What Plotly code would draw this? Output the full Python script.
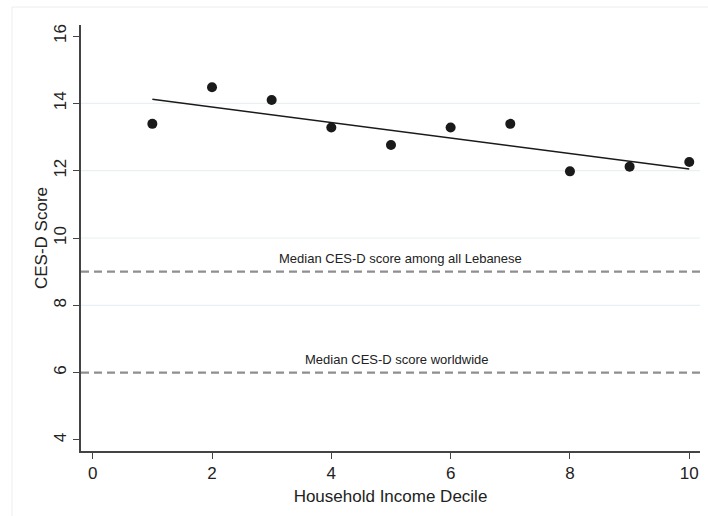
import plotly.graph_objects as go

deciles = [1, 2, 3, 4, 5, 6, 7, 8, 9, 10]
cesd_scores = [13.39, 14.48, 14.10, 13.28, 12.76, 13.28, 13.39, 11.98, 12.12, 12.26]
fit_x = [1, 10]
fit_y = [14.12, 12.05]
ref_lines = [9, 6]
ref_labels = ["Median CES-D score among all Lebanese", "Median CES-D score worldwide"]
ref_label_x = [5.16, 5.1]
grid_vals = [8, 10, 12, 14]
x_ticks = [0, 2, 4, 6, 8, 10]
y_ticks = [4, 6, 8, 10, 12, 14, 16]

FONT = "Liberation Sans, Arial, Helvetica, sans-serif"

fig = go.Figure()

shapes = []
for g in grid_vals:
    shapes.append(dict(type="line", xref="paper", x0=0, x1=1, yref="y", y0=g, y1=g,
                       line=dict(color="#e8f0f1", width=1.2), layer="below"))
for r in ref_lines:
    shapes.append(dict(type="line", xref="paper", x0=0, x1=1, yref="y", y0=r, y1=r,
                       line=dict(color="#8f8f8f", width=2.2, dash="8px,5px"), layer="above"))
# outer graph-region frame (top and left edges visible)
shapes.append(dict(type="line", xref="paper", yref="paper",
                   x0=(12 - 81) / 619, x1=(708 - 81) / 619,
                   y0=(516 - 65 - 7) / 426, y1=(516 - 65 - 7) / 426,
                   line=dict(color="#ececec", width=1)))
shapes.append(dict(type="line", xref="paper", yref="paper",
                   x0=(12 - 81) / 619, x1=(12 - 81) / 619,
                   y0=(516 - 65 - 7) / 426, y1=-65 / 426,
                   line=dict(color="#ececec", width=1)))

fig.add_trace(go.Scatter(x=fit_x, y=fit_y, mode="lines",
                         line=dict(color="#1a1a1a", width=1.6), showlegend=False,
                         hoverinfo="skip"))
fig.add_trace(go.Scatter(x=deciles, y=cesd_scores, mode="markers",
                         marker=dict(color="#1a1a1a", size=10), showlegend=False))

annotations = []
for r, lab, lx in zip(ref_lines, ref_labels, ref_label_x):
    annotations.append(dict(x=lx, y=r, xref="x", yref="y", text=lab,
                            showarrow=False, yshift=13,
                            font=dict(family=FONT, size=13, color="#222222")))

fig.update_layout(
    width=708, height=516,
    margin=dict(l=81, r=8, t=25, b=65, autoexpand=False),
    paper_bgcolor="white", plot_bgcolor="white",
    shapes=shapes, annotations=annotations,
    font=dict(family=FONT, color="#222222"),
    xaxis=dict(range=[-0.196, 10.18], tickvals=x_ticks, showgrid=False, zeroline=False,
               showline=True, linecolor="#444444", linewidth=1.5,
               ticks="outside", ticklen=6, tickcolor="#444444", tickwidth=1.3,
               tickfont=dict(family=FONT, size=17, color="#222222"),
               automargin=False,
               title=dict(text="Household Income Decile",
                          font=dict(family=FONT, size=17, color="#222222"), standoff=8)),
    yaxis=dict(range=[3.673, 16.327], tickvals=y_ticks, showgrid=False, zeroline=False,
               showline=True, linecolor="#444444", linewidth=1.5,
               ticks="outside", ticklen=6, tickcolor="#444444", tickwidth=1.3,
               tickangle=-90, automargin=False,
               tickfont=dict(family=FONT, size=17, color="#222222"),
               title=dict(text="CES-D Score",
                          font=dict(family=FONT, size=17, color="#222222"), standoff=0)),
)

fig.write_html("out.html", config={"displayModeBar": False},
               post_script="document.body.style.margin='0';document.body.style.padding='0';document.body.style.overflow='hidden';")
